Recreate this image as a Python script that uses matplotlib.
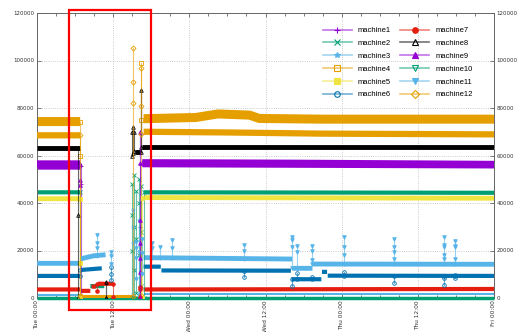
import numpy as np
import matplotlib.pyplot as plt
from matplotlib.lines import Line2D
from matplotlib.patches import Rectangle
from matplotlib.ticker import MultipleLocator
from matplotlib.colors import to_rgba

nan = np.nan

# x axis: hours from Tue 00:00
tick_hours = [0, 12, 24, 36, 48, 60, 72]
tick_labels = ['Tue 00:00', 'Tue 12:00', 'Wed 00:00', 'Wed 12:00',
               'Thu 00:00', 'Thu 12:00', 'Fri 00:00']
y_ticks = [0, 20000, 40000, 60000, 80000, 100000, 120000]

names = ['machine%d' % i for i in range(1, 13)]

# noisy bands (hour, value), nan = no data
m1_t = [0, 6.8, nan, 16.6, 72]
m1_v = [55500, 55500, nan, 56500, 56000]
m2_t = [0, 6.8, nan, 8.4, 10.6, nan, 16.8, 72]
m2_v = [44500, 44500, nan, 5000, 5000, nan, 44500, 44300]
m3_t = [0, 6.8, nan, 16.8, 72]
m3_v = [1200, 1200, nan, 1800, 1800]
m4_t = [0, 6.8, nan, 16.8, 25, 28.5, 33.5, 35, 45, 72]
m4_v = [74300, 74300, nan, 75500, 76000, 77500, 77000, 75600, 75300, 75300]
m5_t = [0, 6.8, nan, 16.8, 72]
m5_v = [41800, 41800, nan, 42300, 42000]
m6_t = [0, 6.8, nan, 6.9, 10.2, nan, 16.8, 19.5, nan, 19.6, 40.0, nan,
        40.1, 44.8, nan, 44.9, 45.7, nan, 45.8, 72]
m6_v = [9300, 9300, nan, 11800, 12500, nan, 13200, 13200, nan, 11600, 11500, nan,
        7900, 7900, nan, 11000, 11000, nan, 9400, 9300]
m7_t = [0, 6.8, nan, 6.9, 8.4, nan, 8.6, 9.3, nan, 9.6, 12.0, nan, 16.8, 72]
m7_v = [3600, 3600, nan, 3000, 3000, nan, 4800, 4800, nan, 6000, 6000, nan, 3600, 3800]
m8_t = [0, 6.8, nan, 15.5, 16.4, nan, 16.5, 72]
m8_v = [63300, 63300, nan, 61500, 61500, nan, 63600, 63600]
m9_t = [0, 6.8, nan, 16.6, 40, 72]
m9_v = [56500, 56500, nan, 57000, 56800, 56300]
m10_t = [0, 72]
m10_v = [0, 0]
m11_t = [0, 6.8, nan, 6.9, 7.5, 9.0, 10.8, nan, 16.8, 40.2, nan, 40.3, 43.4, nan, 43.5, 72]
m11_v = [14600, 14600, nan, 16400, 16900, 17800, 18200, nan, 17000, 16400, nan,
         12500, 12500, nan, 14300, 14200]
m12_t = [0, 6.8, nan, 16.8, 30, 45, 72]
m12_v = [68500, 68500, nan, 70000, 69700, 69200, 68900]
gap_orange_t = [6.7, 15.4]
gap_orange_v = [700, 700]

# spikes: hour and the values the vertical line passes through
m1_st = [6.9, 16.2]
m1_sv = [[55500, 48000, 0], [0, 30000, 56500]]
m2_st = [6.8, 15.0, 15.3, 15.6, 16.0, 16.4, 16.8]
m2_sv = [[44500, 0], [0, 20000, 35000, 48000], [0, 12000, 30000, 52000],
         [2000, 25000, 45000], [0, 18000, 40000, 50000], [5000, 28000, 47000], [0, 44500]]
m3_st = [15.2, 16.1]
m3_sv = [[1500, 23000, 30000, 37000], [1800, 20000, 33000]]
m4_st = [6.8, 16.4]
m4_sv = [[74300, 60000, 700], [700, 75000, 98800]]
m5_st = [6.7, 16.5]
m5_sv = [[41800, 14700, 0], [0, 42300]]
m6_st = [6.8, 11.6, 32.6, 40.2, 41.0, 43.3, 48.4, 56.2, 64.1, 65.9]
m6_sv = [[9300, 11800], [13000, 10000, 7600], [11500, 8700], [7900, 5000], [7900, 10500],
         [7900, 9000], [9400, 11000], [9300, 6500], [9300, 8300, 5500], [9300, 8300, 9700]]
m7_st = [9.5, 12.0, 16.3]
m7_sv = [[3000, 6000], [6000, 500], [500, 4500, 3600]]
m8_st = [6.5, 10.9, 14.9, 15.1, 15.3, 16.4]
m8_sv = [[63300, 35000, 0], [0, 6700, 0], [60000, 70000], [61000, 72000],
         [62000, 70000], [61500, 87600, 63600]]
m9_st = [6.85, 16.2]
m9_sv = [[56500, 49500, 47500], [0, 11000, 17000, 23000, 33000, 70000, 57000]]
m10_st = []
m10_sv = []
m11_st = [9.4, 11.6, 15.6, 16.6, 18.1, 19.4, 21.3, 32.6, 40.2, 41.0, 43.3,
          48.4, 56.2, 64.1, 65.9]
m11_sv = [[17800, 21000, 23000, 26500], [14500, 17500, 19400], [8000, 17000, 21000, 23500],
          [10000, 19000, 25000], [16800, 21000, 23000], [16800, 21500],
          [16700, 21000, 24500], [16400, 20000, 22300], [12500, 21300, 24400, 25800],
          [12500, 19500, 21900], [14300, 16000, 20000, 21900], [14300, 18000, 21300, 25500],
          [14200, 16300, 19500, 21600, 24700], [14200, 16300, 18100, 21300, 22300, 25800],
          [14200, 16300, 21300, 21900, 24100]]
m12_st = [6.8, 15.1, 16.45]
m12_sv = [[68500, 700], [700, 82000, 91000, 105400], [69000, 81000, 96800]]

band_t = [m1_t, m2_t, m3_t, m4_t, m5_t, m6_t, m7_t, m8_t, m9_t, m10_t, m11_t, m12_t]
band_v = [m1_v, m2_v, m3_v, m4_v, m5_v, m6_v, m7_v, m8_v, m9_v, m10_v, m11_v, m12_v]
spike_t = [m1_st, m2_st, m3_st, m4_st, m5_st, m6_st, m7_st, m8_st, m9_st, m10_st, m11_st, m12_st]
spike_v = [m1_sv, m2_sv, m3_sv, m4_sv, m5_sv, m6_sv, m7_sv, m8_sv, m9_sv, m10_sv, m11_sv, m12_sv]

# styles (gnuplot-like palette)
colors = ['#9400d3', '#009e73', '#56b4e9', '#e69f00', '#f0e442', '#0072b2',
          '#e51e10', '#000000', '#9400d3', '#009e73', '#56b4e9', '#e69f00']
markers = ['+', 'x', '*', 's', 's', 'o', 'o', '^', '^', 'v', 'v', 'D']
filled = [True, True, True, False, True, False, True, False, True, False, True, False]
band_lw = [5, 3, 1.5, 6.5, 3.5, 3, 3, 3.5, 5, 2.5, 3.5, 4.5]

fig = plt.figure(figsize=(5.3, 3.32), dpi=100)
ax = fig.add_axes([37 / 530, 1 - 298 / 332, 457 / 530, 285 / 332])

for i in range(12):
    c = colors[i]
    ax.plot(band_t[i], band_v[i], color=c, lw=band_lw[i], solid_capstyle='butt',
            zorder=2 + i * 0.1, clip_on=(i != 9))
    for t, vals in zip(spike_t[i], spike_v[i]):
        ax.plot([t] * len(vals), vals, color=to_rgba(c, 0.6), lw=0.8,
                marker=markers[i], ms=2.6, mew=0.6, mec=c,
                mfc=c if filled[i] else 'none', zorder=3 + i * 0.1)
    if i == 11:
        ax.plot(gap_orange_t, gap_orange_v, color=c, lw=2.2, solid_capstyle='butt', zorder=3)

ax.set_xlim(0, 72)
ax.set_ylim(0, 120000)
ax.set_xticks(tick_hours)
ax.set_xticklabels(tick_labels, rotation=90, fontsize=4.2, color='#333333', va='top')
ax.xaxis.set_minor_locator(MultipleLocator(3))
ax.set_yticks(y_ticks)
ax.set_yticklabels([str(v) for v in y_ticks], fontsize=4, color='#333333')
ax.tick_params(which='both', direction='in', top=True, right=True,
               labelright=True, length=3, width=0.6, color='#666666', pad=2)
ax.tick_params(axis='x', pad=1.5)
ax.tick_params(which='minor', length=2)
ax.grid(True, which='major', ls=':', color='#bbbbbb', lw=0.6)
for s in ax.spines.values():
    s.set_color('#666666')
    s.set_linewidth(0.7)

handles = []
for i in range(12):
    handles.append(Line2D([], [], color=to_rgba(colors[i], 0.55), lw=1.2,
                          marker=markers[i], ms=4, mew=0.8, mec=colors[i],
                          mfc=colors[i] if filled[i] else 'none'))
leg = ax.legend(handles, names, ncol=2, loc='upper left', frameon=False,
                bbox_to_anchor=(316 / 530, 1 - 20 / 332), bbox_transform=fig.transFigure,
                prop={'family': 'Liberation Sans', 'size': 5.5},
                handlelength=3.8, labelspacing=0.72, columnspacing=1.2, handletextpad=0.8)

# red highlight box
fig.add_artist(Rectangle((69 / 530, 1 - 310 / 332), 82 / 530, 300 / 332,
                         transform=fig.transFigure, fill=False, ec='red', lw=1.6))

fig.savefig('out.png', dpi=100)
